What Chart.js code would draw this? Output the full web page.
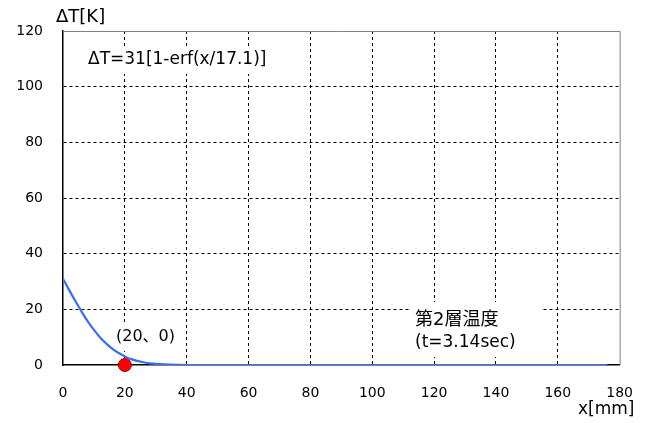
<!DOCTYPE html>
<html>
<head>
<meta charset="utf-8">
<script src="https://cdn.jsdelivr.net/npm/chart.js@4"></script>
<style>
  html, body { margin: 0; padding: 0; background: #fff; }
  #wrap { width: 653px; height: 423px; position: relative; }
</style>
</head>
<body>
<div id="wrap"><canvas id="c"></canvas></div>
<script>
// distance from surface [mm] and temperature rise [K]
const xValues = [0, 2, 4, 6, 8, 10, 12, 14, 16, 18, 20, 22, 24, 26, 28, 30, 35, 40, 60, 80, 100, 120, 140, 160, 176];
const dtValues = [31, 26.9, 23.0, 19.2, 15.7, 12.6, 9.9, 7.7, 5.8, 4.3, 3.1, 2.1, 1.5, 1.0, 0.6, 0.4, 0.1, 0, 0, 0, 0, 0, 0, 0, 0];
const markX = [20];
const markY = [0];
const xTicks = [0, 20, 40, 60, 80, 100, 120, 140, 160, 180];
const yTicks = [0, 20, 40, 60, 80, 100, 120];

const FONT = "'DejaVu Sans', 'Noto Sans CJK JP', sans-serif";

// notes drawn on the plot, with white boxes behind them
const notes = [
    { lines: ['ΔT=31[1-erf(x/17.1)]'], sizes: [17], x: 88, y: 60, box: [84, 46, 196, 28] },
    { lines: ['(20、0)'], sizes: [16], x: 116, y: 337, box: [112, 325, 66, 26] },
    { lines: ['第2層温度', '(t=3.14sec)'], sizes: [18, 17], x: 415, y: 320, lineH: 23, box: [410, 302, 133, 55] }
];

const framePlugin = {
    id: 'frame',
    beforeDatasetsDraw(chart) {
        const { ctx, chartArea: a } = chart;
        ctx.save();
        ctx.fillStyle = '#fff';
        notes.forEach(n => ctx.fillRect(n.box[0], n.box[1], n.box[2], n.box[3]));
        ctx.fillStyle = '#000';
        ctx.textBaseline = 'middle';
        notes.forEach(n => n.lines.forEach((t, i) => {
            ctx.font = n.sizes[i] + 'px ' + FONT;
            ctx.fillText(t, n.x, n.y + i * (n.lineH || 0));
        }));
        // top and right edges are grey
        ctx.strokeStyle = '#808080';
        ctx.lineWidth = 1;
        ctx.beginPath();
        ctx.moveTo(a.left, a.top + 0.5);
        ctx.lineTo(a.right + 0.5, a.top + 0.5);
        ctx.lineTo(a.right + 0.5, a.bottom);
        ctx.stroke();
        ctx.restore();
    },
    afterDraw(chart) {
        const { ctx } = chart;
        ctx.save();
        ctx.fillStyle = '#000';
        ctx.font = '18px ' + FONT;
        ctx.textBaseline = 'middle';
        ctx.fillText('ΔT[K]', 56, 17);
        ctx.font = '17px ' + FONT;
        ctx.fillText('x[mm]', 578, 410);
        ctx.restore();
    }
};

const edgeGrid = (max) => (c) => (c.tick && (c.tick.value === 0 || c.tick.value === max)) ? 'rgba(0,0,0,0)' : '#000';

new Chart(document.getElementById('c'), {
    type: 'line',
    data: {
        datasets: [
            {
                data: xValues.map((x, i) => ({ x, y: dtValues[i] })),
                borderColor: '#3b6ff2',
                borderWidth: 2.2,
                pointRadius: 0,
                tension: 0.3,
                fill: false,
                order: 2
            },
            {
                data: markX.map((x, i) => ({ x, y: markY[i] })),
                showLine: false,
                pointRadius: 6.5,
                pointBackgroundColor: '#ff0000',
                pointBorderColor: '#990000',
                pointBorderWidth: 1,
                clip: false,
                order: 1
            }
        ]
    },
    options: {
        responsive: true,
        maintainAspectRatio: false,
        animation: false,
        layout: { padding: { left: 0, top: 31, right: 23, bottom: 0 } },
        plugins: { legend: { display: false }, tooltip: { enabled: false } },
        scales: {
            x: {
                type: 'linear',
                min: 0,
                max: 180,
                afterFit: (s) => { s.height = 58; },
                afterBuildTicks: (s) => { s.ticks = xTicks.map(v => ({ value: v })); },
                grid: { color: edgeGrid(180), drawTicks: false, lineWidth: 1 },
                border: { display: true, color: '#000', width: 1.5, dash: [3, 3] },
                ticks: { color: '#000', padding: 20, font: { size: 14, family: FONT }, maxRotation: 0 }
            },
            y: {
                min: 0,
                max: 120,
                afterFit: (s) => { s.width = 63; },
                afterBuildTicks: (s) => { s.ticks = yTicks.map(v => ({ value: v })); },
                grid: { color: edgeGrid(120), drawTicks: false, lineWidth: 1 },
                border: { display: true, color: '#000', width: 1.5, dash: [3, 3] },
                ticks: { color: '#000', padding: 20, font: { size: 14, family: FONT } }
            }
        }
    },
    plugins: [framePlugin]
});
</script>
</body>
</html>
